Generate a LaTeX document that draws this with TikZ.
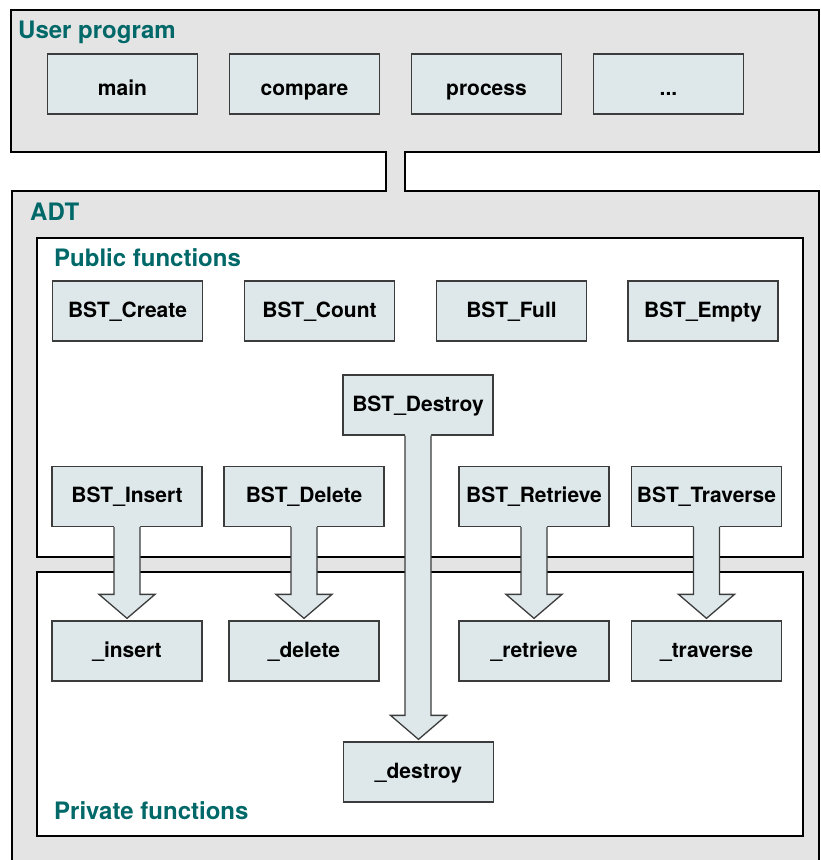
\documentclass[tikz,border=0pt]{standalone}
\usepackage{fontspec}
\setmainfont{TeX Gyre Heros}
\usetikzlibrary{calc}
\definecolor{tealtxt}{RGB}{0,104,104}
\definecolor{fnfill}{RGB}{222,232,234}
\definecolor{bggray}{RGB}{228,228,228}
\definecolor{fnline}{RGB}{60,60,60}
\tikzset{
  fn/.style={draw=fnline, line width=1.3pt, fill=fnfill, minimum width=150pt, minimum height=60pt, inner sep=0pt, text height=15pt, text depth=3pt, font=\fontsize{21}{25}\selectfont\bfseries},
  userfn/.style={fn, text height=22pt, text depth=0pt},
  heading/.style={anchor=base west, inner sep=0pt, text=tealtxt, font=\fontsize{24}{28}\selectfont\bfseries},
  frame/.style={draw=black, line width=2.5pt, line join=miter},
  arrline/.style={draw=fnline, line width=1.3pt, line join=miter}
}
\newcommand\blockarrow[2]{%
  \fill[fnfill] let \p1=(#1.south), \p2=(#2.north) in
   (\x1-13pt,\y1+2pt) -- (\x1-13pt,\y2+26pt) -- (\x2-28pt,\y2+26pt) -- (\x2,\y2+2pt) -- (\x2+28pt,\y2+26pt) -- (\x1+13pt,\y2+26pt) -- (\x1+13pt,\y1+2pt) -- cycle;
  \draw[arrline] let \p1=(#1.south), \p2=(#2.north) in
   (\x1-13pt,\y1) -- (\x1-13pt,\y2+26pt) -- (\x2-28pt,\y2+26pt) -- (\x2,\y2+2pt) -- (\x2+28pt,\y2+26pt) -- (\x1+13pt,\y2+26pt) -- (\x1+13pt,\y1);
}
\begin{document}
\begin{tikzpicture}[x=1pt,y=-1pt]
\useasboundingbox (0,0) rectangle (820,860);
\clip (0,0) rectangle (820,860);
\fill[white] (0,0) rectangle (820,860);
% outer containers (user program + ADT joined by a neck)
\path[frame, fill=bggray] (11,10) -- (819,10) -- (819,152) -- (405,152) -- (405,191) -- (819,191) -- (819,880) -- (12,880) -- (12,191) -- (386,191) -- (386,152) -- (11,152) -- cycle;
% public / private frames
\path[frame, fill=white] (37,238) rectangle (803,557);
\path[frame, fill=white] (37,572) rectangle (803,836);
% headings
\node[heading] (huser) at (18,38) {User program};
\node[heading] (hadt) at (30,220) {ADT};
\node[heading] (hpub) at (54,266) {Public functions};
\node[heading] (hpriv) at (54,819) {Private functions};
% user program functions
\node[userfn] (main) at (122.5,84) {main};
\node[userfn] (compare) at (304.5,84) {compare};
\node[userfn] (process) at (486.5,84) {process};
\node[userfn] (dots) at (668.5,84) {...};
% public functions
\node[fn] (create) at (127.5,311) {BST\_Create};
\node[fn] (count) at (319.5,311) {BST\_Count};
\node[fn] (full) at (511.5,311) {BST\_Full};
\node[fn] (empty) at (703,311) {BST\_Empty};
\node[fn] (destroy) at (418,405) {BST\_Destroy};
\node[fn] (insert) at (127,496.5) {BST\_Insert};
\node[fn, minimum width=160pt] (delete) at (304,496.5) {BST\_Delete};
\node[fn] (retrieve) at (534,496.5) {BST\_Retrieve};
\node[fn] (traverse) at (706.5,496.5) {BST\_Traverse};
% private functions
\node[fn] (pinsert) at (127,651) {\_insert};
\node[fn] (pdelete) at (304,651) {\_delete};
\node[fn] (pretrieve) at (534,651) {\_retrieve};
\node[fn] (ptraverse) at (706.5,651) {\_traverse};
\node[fn] (pdestroy) at (418.5,772) {\_destroy};
% block arrows
\blockarrow{insert}{pinsert}
\blockarrow{delete}{pdelete}
\blockarrow{retrieve}{pretrieve}
\blockarrow{traverse}{ptraverse}
\blockarrow{destroy}{pdestroy}
\end{tikzpicture}
\end{document}
